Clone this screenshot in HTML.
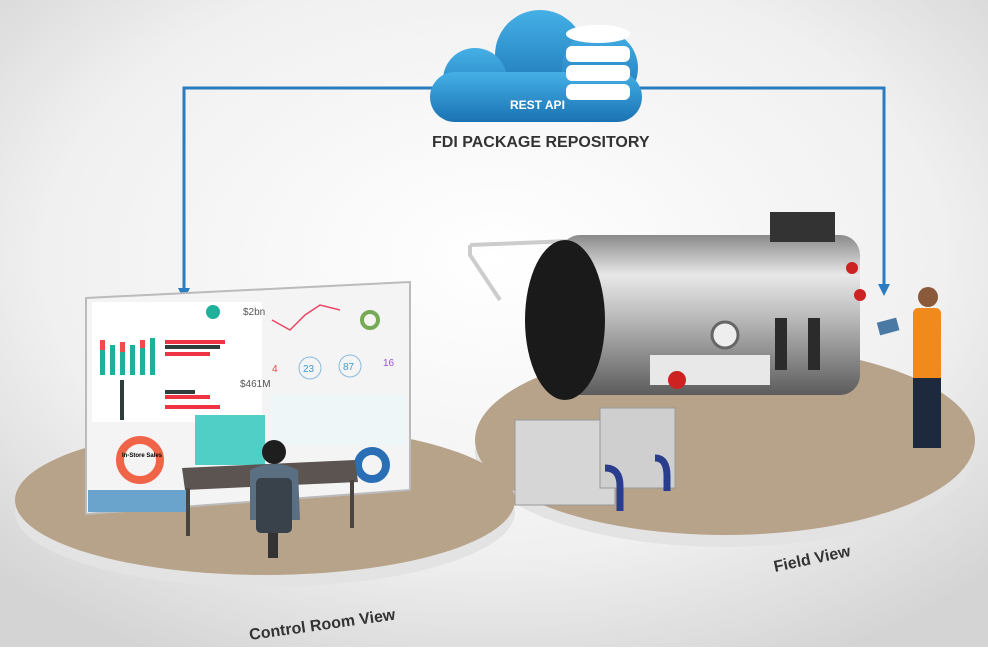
<!DOCTYPE html>
<html><head><style>
body{margin:0;width:988px;height:647px;overflow:hidden;font-family:"Liberation Sans",sans-serif}
</style></head><body>
<svg width="988" height="647" viewBox="0 0 988 647" xmlns="http://www.w3.org/2000/svg">
<defs>
<radialGradient id="bg" cx="50%" cy="40%" r="70%"><stop offset="0" stop-color="#ffffff"/><stop offset="0.65" stop-color="#f0f0f0"/><stop offset="1" stop-color="#d4d4d4"/></radialGradient>
<linearGradient id="cl" x1="0" y1="0" x2="0" y2="1"><stop offset="0" stop-color="#45b0e6"/><stop offset="1" stop-color="#1b72b3"/></linearGradient>
<linearGradient id="cyl" x1="0" y1="0" x2="0" y2="1"><stop offset="0" stop-color="#8a8a8a"/><stop offset="0.25" stop-color="#e8e8e8"/><stop offset="0.5" stop-color="#bdbdbd"/><stop offset="1" stop-color="#5c5c5c"/></linearGradient>
<marker id="ar" markerUnits="userSpaceOnUse" markerWidth="12" markerHeight="12" refX="6" refY="6" orient="auto"><path d="M0,0 L12,6 L0,12z" fill="#2a7cc0"/></marker>
</defs>
<rect width="988" height="647" fill="url(#bg)"/>
<polyline points="440,88 184,88 184,294" fill="none" stroke="#2a7cc0" stroke-width="3" marker-end="url(#ar)"/>
<polyline points="630,88 884,88 884,290" fill="none" stroke="#2a7cc0" stroke-width="3" marker-end="url(#ar)"/>
<g fill="url(#cl)">
<circle cx="540" cy="55" r="45"/><circle cx="475" cy="80" r="32"/><circle cx="600" cy="68" r="38"/>
<rect x="430" y="72" width="212" height="50" rx="25"/>
</g>
<g fill="#fff">
<ellipse cx="598" cy="34" rx="32" ry="9"/>
<rect x="566" y="46" width="64" height="16" rx="6"/>
<rect x="566" y="65" width="64" height="16" rx="6"/>
<rect x="566" y="84" width="64" height="16" rx="6"/>
</g>
<text x="510" y="109" fill="#fff" font-size="12" font-weight="bold">REST API</text>
<text x="432" y="147" fill="#333" font-size="16" font-weight="bold">FDI PACKAGE REPOSITORY</text>
<ellipse cx="725" cy="452" rx="250" ry="95" fill="#e3e3e3"/>
<ellipse cx="725" cy="440" rx="250" ry="95" fill="#b7a28a"/>
<ellipse cx="265" cy="512" rx="250" ry="75" fill="#e3e3e3"/>
<ellipse cx="265" cy="500" rx="250" ry="75" fill="#b7a28a"/>
<polygon points="86,298 410,282 410,490 86,514" fill="#f4f4f4" stroke="#bbb" stroke-width="2"/>
<rect x="92" y="302" width="170" height="120" fill="#fff"/>
<g fill="#1fb09b"><rect x="100" y="340" width="5" height="35"/><rect x="110" y="345" width="5" height="30"/><rect x="120" y="342" width="5" height="33"/><rect x="130" y="345" width="5" height="30"/><rect x="140" y="340" width="5" height="35"/><rect x="150" y="338" width="5" height="37"/></g>
<g fill="#f04c4c"><rect x="100" y="340" width="5" height="10"/><rect x="120" y="342" width="5" height="10"/><rect x="140" y="340" width="5" height="8"/></g>
<g fill="#e34"><rect x="165" y="340" width="60" height="4"/><rect x="165" y="352" width="45" height="4"/><rect x="165" y="395" width="45" height="4"/><rect x="165" y="405" width="55" height="4"/></g>
<g fill="#2f3d3d"><rect x="165" y="345" width="55" height="4"/><rect x="165" y="390" width="30" height="4"/><rect x="120" y="380" width="4" height="40"/></g>
<circle cx="213" cy="312" r="7" fill="#1fb09b"/>
<text x="243" y="315" font-size="10" fill="#555">$2bn</text>
<text x="240" y="387" font-size="10" fill="#555">$461M</text>
<polyline points="272,320 290,330 305,315 320,305 340,310" fill="none" stroke="#e46" stroke-width="1.5"/>
<circle cx="370" cy="320" r="8" fill="none" stroke="#7a5" stroke-width="4"/>
<g font-size="10" fill="#49c"><circle cx="310" cy="368" r="11" fill="none" stroke="#8bd"/><text x="303" y="372">23</text><circle cx="350" cy="366" r="11" fill="none" stroke="#8bd"/><text x="343" y="370">87</text><text x="383" y="366" fill="#95c">16</text></g>
<text x="272" y="372" font-size="10" fill="#e44">4</text>
<rect x="270" y="395" width="135" height="50" fill="#eef6f8"/>
<rect x="195" y="415" width="70" height="50" fill="#4fcfc5"/>
<circle cx="140" cy="460" r="20" fill="none" stroke="#f06548" stroke-width="8"/>
<text x="122" y="457" font-size="6" font-weight="bold">In-Store Sales</text>
<circle cx="372" cy="465" r="14" fill="none" stroke="#2a6fb5" stroke-width="8"/>
<rect x="88" y="490" width="100" height="22" fill="#6aa4cc"/>
<polygon points="182,468 355,460 358,482 185,490" fill="#5b5450"/>
<rect x="186" y="488" width="4" height="48" fill="#4a4440"/><rect x="350" y="480" width="4" height="48" fill="#4a4440"/>
<circle cx="274" cy="452" r="12" fill="#1e1e1e"/>
<path d="M250,470 Q274,458 298,470 L300,520 L250,520z" fill="#5a6f82"/>
<rect x="256" y="478" width="36" height="55" rx="5" fill="#39424b"/>
<rect x="268" y="533" width="10" height="25" fill="#333"/>
<polyline points="470,245 645,238 645,250" fill="none" stroke="#ccc" stroke-width="4"/>
<polyline points="470,245 470,255 500,300" fill="none" stroke="#ccc" stroke-width="4"/>
<rect x="560" y="235" width="300" height="160" rx="20" fill="url(#cyl)"/>
<ellipse cx="565" cy="320" rx="40" ry="80" fill="#1a1a1a"/>
<rect x="770" y="212" width="65" height="30" fill="#333"/>
<circle cx="725" cy="335" r="13" fill="#eee" stroke="#666" stroke-width="3"/>
<rect x="650" y="355" width="120" height="30" fill="#e8e8e8"/>
<circle cx="677" cy="380" r="9" fill="#c22"/>
<rect x="775" y="318" width="12" height="52" fill="#2b2b2b"/><rect x="808" y="318" width="12" height="52" fill="#2b2b2b"/>
<circle cx="852" cy="268" r="6" fill="#c22"/><circle cx="860" cy="295" r="6" fill="#c22"/>
<rect x="515" y="420" width="100" height="85" fill="#d6d6d6" stroke="#999"/>
<rect x="600" y="408" width="75" height="80" fill="#cfcfcf" stroke="#999"/>
<path d="M605,468 q15,0 15,18 v25" stroke="#2a3d8c" stroke-width="7" fill="none"/>
<path d="M655,458 q12,0 12,18 v15" stroke="#2a3d8c" stroke-width="7" fill="none"/>
<circle cx="928" cy="297" r="10" fill="#8a5a3a"/>
<rect x="913" y="308" width="28" height="75" rx="5" fill="#f08a1c"/>
<rect x="913" y="378" width="28" height="70" fill="#1d2a3d"/>
<rect x="878" y="320" width="20" height="13" fill="#4a7aa4" transform="rotate(-15 888 326)"/>
<text x="250" y="640" font-size="16" font-weight="bold" fill="#333" transform="rotate(-8 250 640)">Control Room View</text>
<text x="775" y="572" font-size="16" font-weight="bold" fill="#333" transform="rotate(-12 775 572)">Field View</text>
</svg>
</body></html>
